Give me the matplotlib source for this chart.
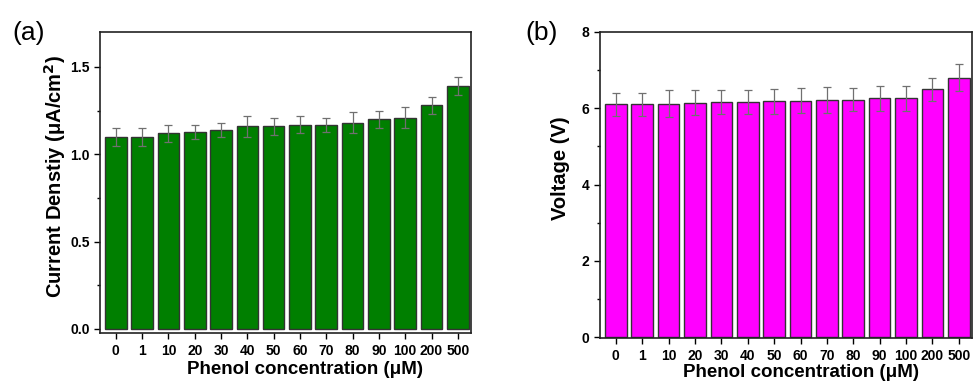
import matplotlib
matplotlib.use("Agg")
import matplotlib.pyplot as plt
from matplotlib.ticker import MultipleLocator

categories = ["0", "1", "10", "20", "30", "40", "50", "60", "70", "80", "90", "100", "200", "500"]
current = [1.10, 1.10, 1.12, 1.13, 1.14, 1.16, 1.16, 1.17, 1.17, 1.18, 1.20, 1.21, 1.28, 1.39]
current_err = [0.05, 0.05, 0.05, 0.04, 0.04, 0.06, 0.05, 0.05, 0.04, 0.06, 0.05, 0.06, 0.05, 0.05]
voltage = [6.10, 6.10, 6.12, 6.15, 6.16, 6.16, 6.18, 6.20, 6.21, 6.23, 6.26, 6.26, 6.50, 6.80]
voltage_err = [0.30, 0.30, 0.35, 0.32, 0.31, 0.31, 0.32, 0.33, 0.34, 0.30, 0.32, 0.33, 0.30, 0.35]

plt.rcParams['font.family'] = ['Liberation Sans', 'DejaVu Sans']

fig = plt.figure(figsize=(9.73, 3.83), dpi=100)
axa = fig.add_axes([100/973, 50/383, 371/973, 301/383])
axb = fig.add_axes([600/973, 45/383, 372/973, 306/383])

x = list(range(len(categories)))

def style(ax):
    for s in ax.spines.values():
        s.set_linewidth(1.2)
        s.set_color('#222222')
    ax.tick_params(axis='both', which='both', direction='out', top=False, right=False,
                   width=1.0, labelsize=10)
    ax.tick_params(axis='both', which='major', length=4)
    ax.tick_params(axis='x', which='major', pad=4)
    ax.tick_params(axis='y', which='minor', length=2.5)
    ax.set_xticks(x)
    ax.set_xticklabels(categories, fontweight='bold')
    for lab in ax.get_yticklabels():
        lab.set_fontweight('bold')
    ax.set_xlabel("Phenol concentration (μM)", fontsize=13.5, fontweight='bold')

axa.bar(x, current, width=0.82, color='#007f00', edgecolor='#333333', linewidth=1.0,
        yerr=current_err, error_kw=dict(ecolor='#707070', elinewidth=0.9, capsize=3, capthick=0.9))
axa.set_xlim(-0.6, 13.5)
axa.set_ylim(-0.023, 1.7)
axa.yaxis.set_minor_locator(MultipleLocator(0.25))
axa.set_yticks([0.0, 0.5, 1.0, 1.5])
axa.set_yticklabels(["0.0", "0.5", "1.0", "1.5"])
style(axa)
axa.set_ylabel("Current Denstiy (μA/cm$^\\mathbf{2}$)", fontsize=14.5, fontweight='bold')
axa.yaxis.set_label_coords(-0.087, 0.52)
axa.xaxis.set_label_coords(0.553, -0.093)

axb.bar(x, voltage, width=0.82, color='#ff00ff', edgecolor='#333333', linewidth=1.0,
        yerr=voltage_err, error_kw=dict(ecolor='#707070', elinewidth=0.9, capsize=3, capthick=0.9))
axb.set_xlim(-0.6, 13.5)
axb.set_ylim(-0.02, 8)
axb.set_yticks([0, 2, 4, 6, 8])
axb.set_yticklabels(["0", "2", "4", "6", "8"])
axb.yaxis.set_minor_locator(MultipleLocator(1))
style(axb)
axb.set_ylabel("Voltage (V)", fontsize=14.5, fontweight='bold')
axb.yaxis.set_label_coords(-0.081, 0.556)
axb.xaxis.set_label_coords(0.54, -0.085)

fig.text(12/973, 1 - 33/383, "(a)", fontsize=19, va='center', ha='left')
fig.text(525/973, 1 - 33/383, "(b)", fontsize=19, va='center', ha='left')

fig.savefig("out.png", dpi=100)
